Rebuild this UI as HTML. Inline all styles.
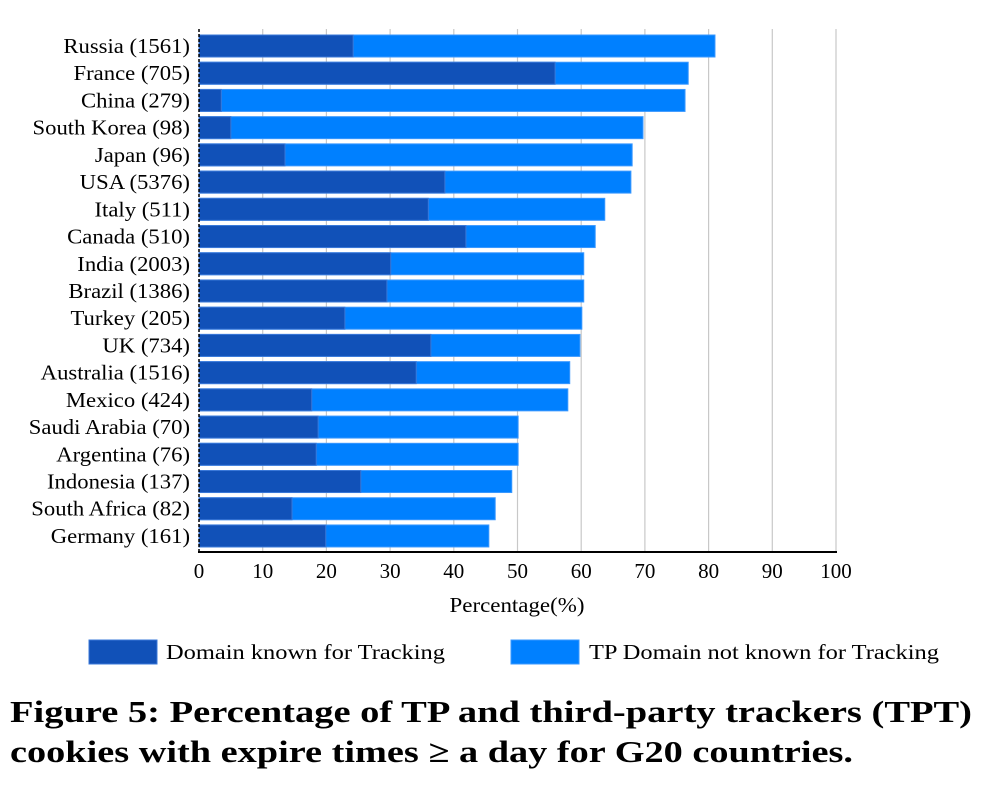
<!DOCTYPE html>
<html><head><meta charset="utf-8"><style>
html,body{margin:0;padding:0;background:#fff;}
svg{display:block;}
text{font-family:"Liberation Serif",serif;fill:#000;}
</style></head><body>
<svg width="990" height="792" viewBox="0 0 990 792" xmlns="http://www.w3.org/2000/svg">
<g stroke="#c8c8c8" stroke-width="1.2">
<line x1="262.7" y1="29" x2="262.7" y2="552"/><line x1="326.4" y1="29" x2="326.4" y2="552"/>
<line x1="390.1" y1="29" x2="390.1" y2="552"/><line x1="453.8" y1="29" x2="453.8" y2="552"/>
<line x1="517.5" y1="29" x2="517.5" y2="552"/><line x1="581.2" y1="29" x2="581.2" y2="552"/>
<line x1="644.9" y1="29" x2="644.9" y2="552"/><line x1="708.6" y1="29" x2="708.6" y2="552"/>
<line x1="772.3" y1="29" x2="772.3" y2="552"/><line x1="836" y1="29" x2="836" y2="552"/>
</g>
<g id="bars"></g>
<line x1="199" y1="29" x2="199" y2="553" stroke="#000" stroke-width="1.5" stroke-dasharray="3,2"/>
<line x1="198" y1="552" x2="837" y2="552" stroke="#000" stroke-width="2"/>
<g font-size="21" text-anchor="middle">
<text x="199" y="578">0</text><text x="262.7" y="578">10</text><text x="326.4" y="578">20</text>
<text x="390.1" y="578">30</text><text x="453.8" y="578">40</text><text x="517.5" y="578">50</text>
<text x="581.2" y="578">60</text><text x="644.9" y="578">70</text><text x="708.6" y="578">80</text>
<text x="772.3" y="578">90</text><text x="836" y="578">100</text>
<text x="517" y="612" textLength="135" lengthAdjust="spacingAndGlyphs">Percentage(%)</text>
</g>
<rect x="89" y="640" width="68" height="24" fill="#1151b8" stroke="#3a78d8"/>
<text x="166" y="659" font-size="21" textLength="279" lengthAdjust="spacingAndGlyphs">Domain known for Tracking</text>
<rect x="511" y="640" width="68" height="24" fill="#0080ff" stroke="#3a98ff"/>
<text x="589" y="659" font-size="21" textLength="350" lengthAdjust="spacingAndGlyphs">TP Domain not known for Tracking</text>
<text x="10" y="722" font-size="31" font-weight="bold" textLength="962" lengthAdjust="spacingAndGlyphs">Figure 5: Percentage of TP and third-party trackers (TPT)</text>
<text x="10" y="762" font-size="31" font-weight="bold" textLength="843" lengthAdjust="spacingAndGlyphs">cookies with expire times ≥ a day for G20 countries.</text>
<g id="labels" font-size="21" text-anchor="end"></g>
</svg>
<script>
var d=[["Russia (1561)",24.2,81],["France (705)",55.9,76.8],["China (279)",3.5,76.3],["South Korea (98)",5,69.7],["Japan (96)",13.5,68],["USA (5376)",38.6,67.8],["Italy (511)",36,63.7],["Canada (510)",41.9,62.2],["India (2003)",30.1,60.4],["Brazil (1386)",29.5,60.4],["Turkey (205)",22.9,60.1],["UK (734)",36.4,59.8],["Australia (1516)",34.1,58.2],["Mexico (424)",17.7,57.9],["Saudi Arabia (70)",18.7,50.1],["Argentina (76)",18.4,50.1],["Indonesia (137)",25.4,49.1],["South Africa (82)",14.6,46.5],["Germany (161)",19.9,45.5]];
var ns="http://www.w3.org/2000/svg",b=document.getElementById("bars"),l=document.getElementById("labels");
d.forEach(function(r,i){var c=46+i*27.22,y=c-11;
var e=document.createElementNS(ns,"rect");e.setAttribute("x",199);e.setAttribute("y",y);e.setAttribute("width",r[2]*6.37);e.setAttribute("height",22);e.setAttribute("fill","#0080ff");e.setAttribute("stroke","#3a98ff");e.setAttribute("stroke-width","1");b.appendChild(e);
e=document.createElementNS(ns,"rect");e.setAttribute("x",199);e.setAttribute("y",y);e.setAttribute("width",r[1]*6.37);e.setAttribute("height",22);e.setAttribute("fill","#1151b8");e.setAttribute("stroke","#3a78d8");e.setAttribute("stroke-width","1");b.appendChild(e);
var t=document.createElementNS(ns,"text");t.setAttribute("x",190);t.setAttribute("y",c+7);t.textContent=r[0];l.appendChild(t);
var w=t.getComputedTextLength();t.setAttribute("textLength",(w*1.08).toFixed(1));t.setAttribute("lengthAdjust","spacingAndGlyphs");});
</script>
</body></html>
